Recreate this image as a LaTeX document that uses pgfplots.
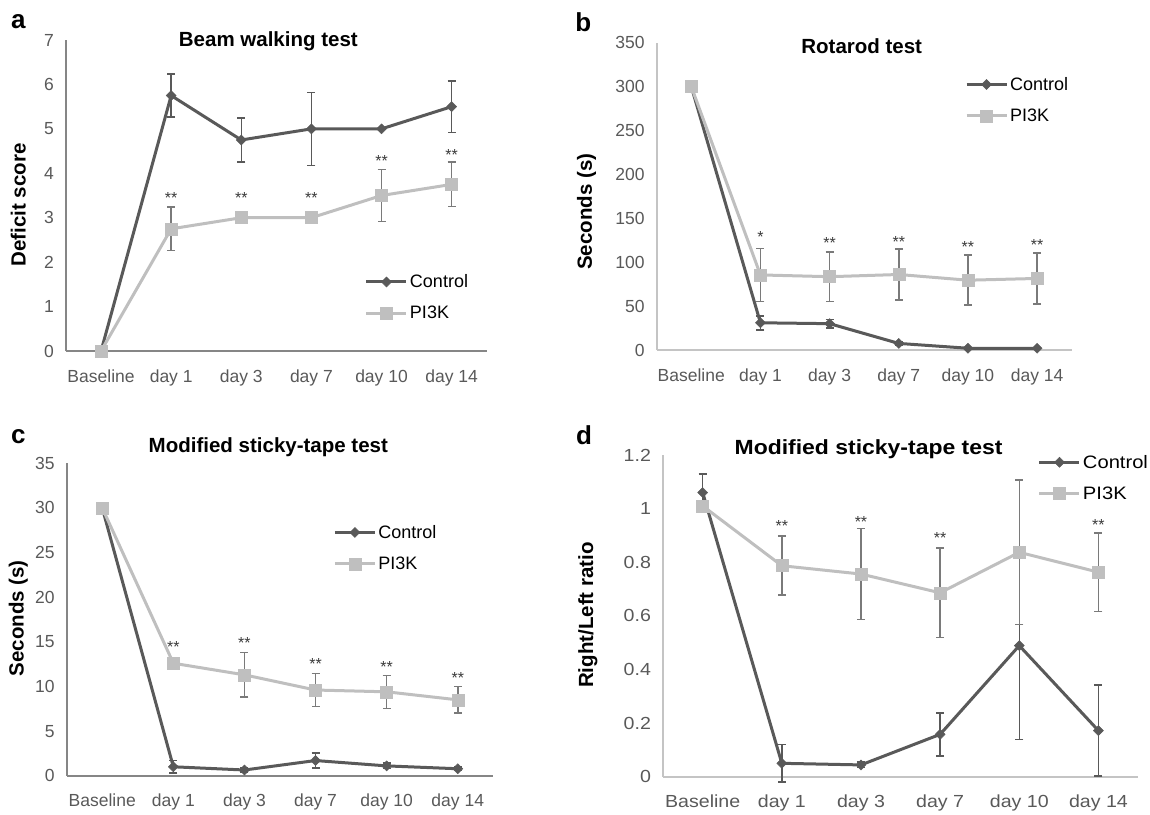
\documentclass[border=0pt]{standalone}
\usepackage{fontspec}
\setmainfont{Liberation Sans}
\newfontfamily\widesans{Liberation Sans}[FakeStretch=1.12]
\usepackage{pgfplots}
\pgfplotsset{compat=1.18}
\definecolor{ctrl}{HTML}{595959}
\definecolor{pik}{HTML}{BFBFBF}
\definecolor{pikerr}{HTML}{7A7A7A}
\definecolor{tickgray}{HTML}{595959}
\definecolor{stargray}{HTML}{3A3A3A}
\definecolor{axdark}{HTML}{868686}
\definecolor{axlight}{HTML}{C4C4C4}

\newcommand\tickfont{\fontsize{17.5}{20}\selectfont}
\newcommand\legfont{\fontsize{18}{20}\selectfont}
\newcommand\titlefont{\fontsize{20.5}{24}\selectfont\bfseries}
\newcommand\ylabfont{\fontsize{20.5}{24}\selectfont\bfseries}
\newcommand\starfont{\fontsize{16}{16}\selectfont}
\newcommand\letterfont{\fontsize{26}{30}\selectfont\bfseries}

\pgfplotsset{
  panel/.style={
    scale only axis, clip=false,
    xmin=-0.5, xmax=5.5, ymin=0,
    axis x line=bottom, axis y line=left,
    axis line style={-, line width=1.6pt, draw=#1},
    xtick={0,1,2,3,4,5},
    xticklabels={Baseline,day 1,day 3,day 7,day 10,day 14},
    major tick length=0pt, tick style={draw=none},
    tick label style={text=tickgray, font=\tickfont},
    xticklabel style={anchor=base, inner sep=0pt, yshift=-31pt},
    yticklabel style={anchor=east, inner sep=0pt, xshift=-12pt},
    /pgf/number format/assume math mode=true,
    title style={font=\titlefont, anchor=center},
    ylabel style={font=\ylabfont, anchor=center},
    legend style={draw=none, fill=none, inner sep=0pt, outer sep=0pt,
      anchor=west, row sep=13pt, font=\legfont, nodes={inner sep=2pt}},
    legend cell align=left,
    legend image code/.code={\draw[mark repeat=2, mark phase=2, ##1]
      plot coordinates {(0pt,0pt) (20pt,0pt) (40pt,0pt)};},
  },
  % panel d is wider in the source, its text too
  widepanel/.style={
    tick label style={font=\widesans\tickfont},
    title style={font=\widesans\titlefont},
    legend style={font=\widesans\legfont},
  },
  ctrlplot/.style={color=ctrl, line width=3pt, mark=diamond*, mark size=5pt,
    mark options={xscale=1.33, solid, line width=0.5pt, fill=ctrl},
    error bars/.cd, y dir=both, y explicit,
    error bar style={line width=1.5pt, color=ctrl},
    error mark options={rotate=90, mark size=4pt, line width=1.5pt, color=ctrl}},
  pikplot/.style={color=pik, line width=3pt, mark=square*, mark size=6pt,
    mark options={solid, line width=0.5pt, fill=pik},
    error bars/.cd, y dir=both, y explicit,
    error bar style={line width=1.5pt, color=pikerr},
    error mark options={rotate=90, mark size=4pt, line width=1.5pt, color=pikerr}},
  starplot/.style={draw=none, mark=none, forget plot, nodes near coords,
    point meta=explicit symbolic,
    every node near coord/.append style={anchor=center, font=\starfont, text=stargray, inner sep=0pt}},
}

\begin{document}
\begin{tikzpicture}
\useasboundingbox (0pt,0pt) rectangle (1150pt,-814pt);

% a
\begin{axis}[panel=axdark, at={(66pt,-351pt)}, anchor=south west,
  width=420.7pt, height=311pt, ymax=7, ytick={0,1,2,3,4,5,6,7},
  title={Beam walking test}, title style={at={(axis description cs:0.481,0.9775)}},
  ylabel={Deficit score}, ylabel style={at={(axis description cs:-0.1134,0.4695)}},
  legend style={at={(axis description cs:0.7107,0.172)}}]
  \addplot[ctrlplot] coordinates {(0,0) +- (0,0) (1,5.75) +- (0,0.48) (2,4.75) +- (0,0.5) (3,5.0) +- (0,0.82) (4,5.0) +- (0,0) (5,5.5) +- (0,0.58)};
  \addlegendentry{Control}
  \addplot[pikplot] coordinates {(0,0) +- (0,0) (1,2.75) +- (0,0.49) (2,3.0) +- (0,0) (3,3.0) +- (0,0) (4,3.5) +- (0,0.58) (5,3.75) +- (0,0.5)};
  \addlegendentry{PI3K}
  \addplot[starplot] coordinates {(1,3.44) [**] (2,3.44) [**] (3,3.44) [**] (4,4.28) [**] (5,4.41) [**]};
\end{axis}

% b
\begin{axis}[panel=axlight, at={(656.7pt,-350pt)}, anchor=south west,
  width=415pt, height=307.3pt, ymax=350, ytick={0,50,100,150,200,250,300,350},
  title={Rotarod test}, title style={at={(axis description cs:0.494,0.9707)}},
  ylabel={Seconds (s)}, ylabel style={at={(axis description cs:-0.1687,0.45)}},
  legend style={at={(axis description cs:0.743,0.8135)}}]
  \addplot[ctrlplot] coordinates {(0,300) +- (0,0) (1,31) +- (0,8) (2,30) +- (0,5) (3,7.5) +- (0,2) (4,2) +- (0,0) (5,2) +- (0,0)};
  \addlegendentry{Control}
  \addplot[pikplot] coordinates {(0,300) +- (0,0) (1,85.5) +- (0,30) (2,83.5) +- (0,28) (3,86) +- (0,29) (4,79.5) +- (0,28.5) (5,81.5) +- (0,29)};
  \addlegendentry{PI3K}
  \addplot[starplot] coordinates {(1,129) [*] (2,121.5) [**] (3,123) [**] (4,117) [**] (5,119.6) [**]};
\end{axis}

% c
\begin{axis}[panel=axdark, at={(66.7pt,-775.7pt)}, anchor=south west,
  width=426.6pt, height=312.4pt, ymax=35, ytick={0,5,10,15,20,25,30,35},
  title={Modified sticky-tape test}, title style={at={(axis description cs:0.4727,1.032)}},
  ylabel={Seconds (s)}, ylabel style={at={(axis description cs:-0.1133,0.504)}},
  legend style={at={(axis description cs:0.6252,0.7289)}}]
  \addplot[ctrlplot] coordinates {(0,30) +- (0,0) (1,1.0) +- (0,0.7) (2,0.64) +- (0,0.2) (3,1.7) +- (0,0.85) (4,1.1) +- (0,0.3) (5,0.78) +- (0,0.2)};
  \addlegendentry{Control}
  \addplot[pikplot] coordinates {(0,30) +- (0,0) (1,12.6) +- (0,0.5) (2,11.3) +- (0,2.5) (3,9.6) +- (0,1.85) (4,9.4) +- (0,1.85) (5,8.5) +- (0,1.5)};
  \addlegendentry{PI3K}
  \addplot[starplot] coordinates {(1,14.4) [**] (2,14.9) [**] (3,12.5) [**] (4,12.2) [**] (5,11.0) [**]};
\end{axis}

% d
\begin{axis}[panel=axlight, widepanel, at={(663.1pt,-776.7pt)}, anchor=south west,
  width=474.9pt, height=321.7pt, ymax=1.2, ytick={0,0.2,0.4,0.6,0.8,1,1.2},
  title={Modified sticky-tape test}, title style={at={(axis description cs:0.4327,1.0)}},
  ylabel={Right/Left ratio}, ylabel style={at={(axis description cs:-0.1586,0.5026)}},
  legend style={at={(axis description cs:0.7894,0.929)}}]
  \addplot[ctrlplot] coordinates {(0,1.06) +- (0,0.07) (1,0.05) +- (0,0.07) (2,0.044) +- (0,0.01) (3,0.158) +- (0,0.08) (4,0.489) +- (0,0.35) (5,0.172) +- (0,0.17)};
  \addlegendentry{Control}
  \addplot[pikplot] coordinates {(0,1.01) +- (0,0.02) (1,0.787) +- (0,0.11) (2,0.756) +- (0,0.17) (3,0.686) +- (0,0.167) (4,0.837) +- (0,0.27) (5,0.763) +- (0,0.146)};
  \addlegendentry{PI3K}
  \addplot[starplot] coordinates {(1,0.937) [**] (2,0.951) [**] (3,0.89) [**] (5,0.94) [**]};
\end{axis}

\node[font=\letterfont] at (18.3pt,-22pt) {a};
\node[font=\letterfont] at (583.3pt,-22pt) {b};
\node[font=\letterfont] at (18.3pt,-436.7pt) {c};
\node[font=\letterfont] at (584pt,-435pt) {d};
\end{tikzpicture}
\end{document}
